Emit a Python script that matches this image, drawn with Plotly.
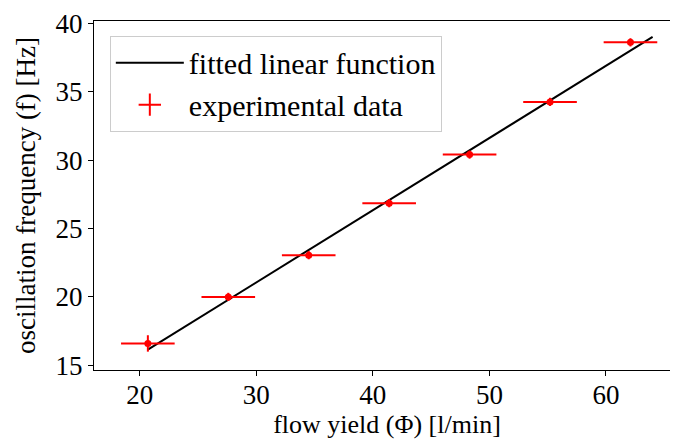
import plotly.graph_objects as go

# data
flow = [20.7, 27.6, 34.5, 41.4, 48.3, 55.2, 62.1]
freq = [16.6, 20.0, 23.05, 26.85, 30.4, 34.25, 38.6]
flow_err = [2.3, 2.3, 2.3, 2.3, 2.3, 2.3, 2.3]
freq_err = [0.6, 0.3, 0.3, 0.3, 0.3, 0.3, 0.3]
fit_x = [20.7, 64.0]
fit_y = [16.15, 39.0]
x_ticks = [20, 30, 40, 50, 60]
y_ticks = [15, 20, 25, 30, 35, 40]

FONT = "Liberation Serif"
TICK_FS = 27
TITLE_FS = 27
LEG_FS = 30

fig = go.Figure()
fig.add_trace(go.Scatter(
    x=fit_x, y=fit_y, mode="lines", name="fitted linear function",
    line=dict(color="black", width=2),
))
fig.add_trace(go.Scatter(
    x=flow, y=freq, mode="markers", showlegend=False,
    marker=dict(color="red", size=7),
    error_x=dict(type="data", array=flow_err, color="red", thickness=2, width=0),
    error_y=dict(type="data", array=freq_err, color="red", thickness=2, width=0),
))
fig.add_trace(go.Scatter(
    x=[None], y=[None], mode="markers", name="experimental data",
    marker=dict(color="red", size=26, symbol="cross-thin-open",
                line=dict(color="red", width=2)),
))

axis_common = dict(
    showgrid=False, zeroline=False, showline=True, linecolor="black", linewidth=1,
    mirror=True, ticks="outside", ticklen=5, tickcolor="black", tickwidth=1,
    tickfont=dict(family=FONT, size=TICK_FS, color="black"),
    automargin=False,
)
fig.update_xaxes(range=[16.08, 66.35], tickvals=x_ticks, ticklabelstandoff=-4,
                 title=dict(text="flow yield (Φ) [l/min]", font=dict(family=FONT, size=26, color="black"), standoff=0),
                 **axis_common)
fig.update_yaxes(range=[14.66, 40.16], tickvals=y_ticks,
                 title=dict(text="oscillation frequency (f) [Hz]", font=dict(family=FONT, size=TITLE_FS, color="black"), standoff=12),
                 **axis_common)

fig.update_layout(
    width=678, height=440,
    margin=dict(l=86, r=6, t=13, b=78),
    plot_bgcolor="white", paper_bgcolor="white",
    font=dict(family=FONT, size=TICK_FS, color="black"),
    showlegend=True,
    legend=dict(x=0.027, y=0.958, xanchor="left", yanchor="top",
                bgcolor="rgba(255,255,255,0.8)", bordercolor="#cccccc", borderwidth=1,
                font=dict(family=FONT, size=LEG_FS, color="black"), tracegroupgap=0,
                itemwidth=68),
)
fig.write_html("out.html")
